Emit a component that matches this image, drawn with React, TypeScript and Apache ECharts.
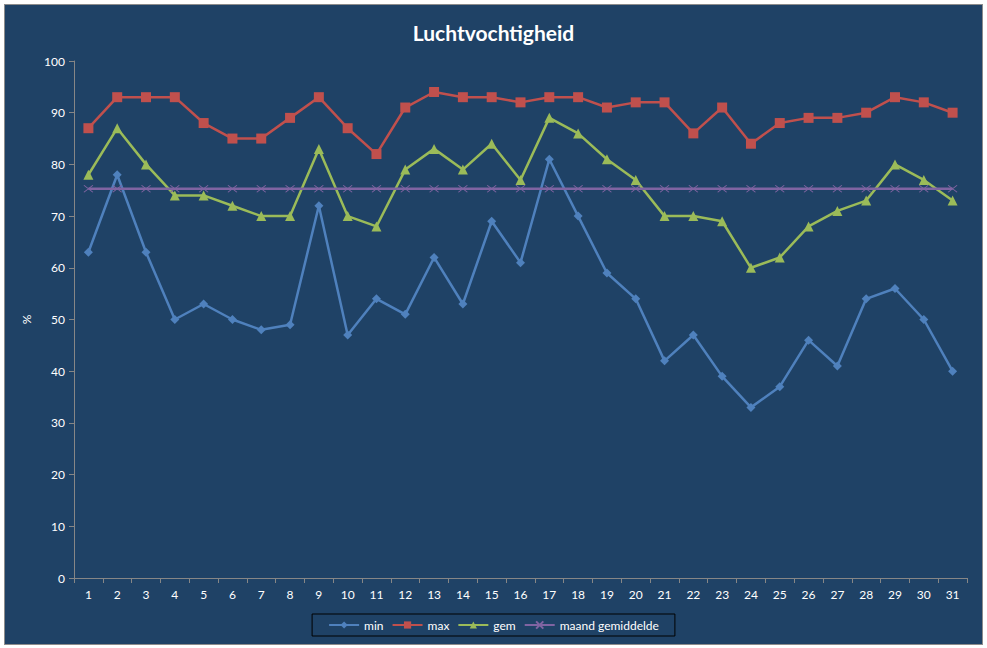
import { useEffect, useRef } from 'react';
import * as echarts from 'echarts';

const days = ['1', '2', '3', '4', '5', '6', '7', '8', '9', '10', '11', '12', '13', '14', '15', '16',
  '17', '18', '19', '20', '21', '22', '23', '24', '25', '26', '27', '28', '29', '30', '31'];

const minValues = [63, 78, 63, 50, 53, 50, 48, 49, 72, 47, 54, 51, 62, 53, 69, 61,
  81, 70, 59, 54, 42, 47, 39, 33, 37, 46, 41, 54, 56, 50, 40];
const maxValues = [87, 93, 93, 93, 88, 85, 85, 89, 93, 87, 82, 91, 94, 93, 93, 92,
  93, 93, 91, 92, 92, 86, 91, 84, 88, 89, 89, 90, 93, 92, 90];
const gemValues = [78, 87, 80, 74, 74, 72, 70, 70, 83, 70, 68, 79, 83, 79, 84, 77,
  89, 86, 81, 77, 70, 70, 69, 60, 62, 68, 71, 73, 80, 77, 73];
const maandGemiddelde = [75.3, 75.3, 75.3, 75.3, 75.3, 75.3, 75.3, 75.3, 75.3, 75.3, 75.3,
  75.3, 75.3, 75.3, 75.3, 75.3, 75.3, 75.3, 75.3, 75.3, 75.3, 75.3, 75.3, 75.3, 75.3, 75.3,
  75.3, 75.3, 75.3, 75.3, 75.3];

const FONT = 'Lato, "Open Sans", sans-serif';
const AXIS_GREY = '#868686';
const X_MARK = 'path://M0,0L10,10M10,0L0,10';

export default function App() {
  const chartRef = useRef<HTMLDivElement>(null);

  useEffect(() => {
    document.body.style.margin = '0';
    if (!chartRef.current) return;
    const chart = echarts.init(chartRef.current, null, { renderer: 'svg' });

    const lineSeries = (name: string, data: number[], color: string, symbol: string, size: number | number[]) => ({
      name,
      type: 'line' as const,
      data,
      symbol,
      symbolSize: size,
      showSymbol: true,
      lineStyle: { color, width: 2.5 },
      itemStyle: { color, borderColor: color, borderWidth: symbol === X_MARK ? 1 : 0 }
    });

    chart.setOption({
      animation: false,
      backgroundColor: '#1F4266',
      textStyle: { fontFamily: FONT },
      title: {
        text: 'Luchtvochtigheid',
        left: 'center',
        top: 12,
        textStyle: { color: '#ffffff', fontSize: 21, fontWeight: 'bold', fontFamily: FONT }
      },
      legend: {
        bottom: 8,
        left: 'center',
        borderColor: '#000000',
        borderWidth: 1,
        padding: [5, 16],
        itemGap: 8,
        itemWidth: 30,
        itemHeight: 9,
        textStyle: { color: '#ffffff', fontSize: 12, fontFamily: FONT },
        data: ['min', 'max', 'gem', 'maand gemiddelde']
      },
      grid: { left: 69, right: 15, top: 56, bottom: 66 },
      xAxis: {
        type: 'category',
        data: days,
        axisLine: { lineStyle: { color: AXIS_GREY } },
        axisTick: { show: true, length: 5, lineStyle: { color: AXIS_GREY } },
        axisLabel: { color: '#ffffff', fontSize: 12, margin: 10 },
        splitLine: { show: false }
      },
      yAxis: {
        type: 'value',
        min: 0,
        max: 100,
        interval: 10,
        name: '%',
        nameLocation: 'middle',
        nameGap: 42,
        nameRotate: 90,
        nameTextStyle: { color: '#ffffff', fontSize: 12 },
        axisLine: { show: true, lineStyle: { color: AXIS_GREY } },
        axisTick: { show: true, length: 5, lineStyle: { color: AXIS_GREY } },
        axisLabel: { color: '#ffffff', fontSize: 12, margin: 9 },
        splitLine: { show: false }
      },
      series: [
        lineSeries('min', minValues, '#4F81BD', 'diamond', 9),
        lineSeries('max', maxValues, '#C0504D', 'rect', 10),
        lineSeries('gem', gemValues, '#9BBB59', 'triangle', 10),
        lineSeries('maand gemiddelde', maandGemiddelde, '#8064A2', X_MARK, [9, 7])
      ]
    });

    return () => {
      chart.dispose();
    };
  }, []);

  return (
    <div style={{ position: 'relative', width: 987, height: 648, background: '#ffffff' }}>
      <div
        style={{
          position: 'absolute',
          left: 4,
          top: 4,
          width: 979,
          height: 641,
          boxSizing: 'border-box',
          border: '1px solid #8c8c8c'
        }}
      >
        <div ref={chartRef} style={{ width: 977, height: 639 }} />
      </div>
    </div>
  );
}
